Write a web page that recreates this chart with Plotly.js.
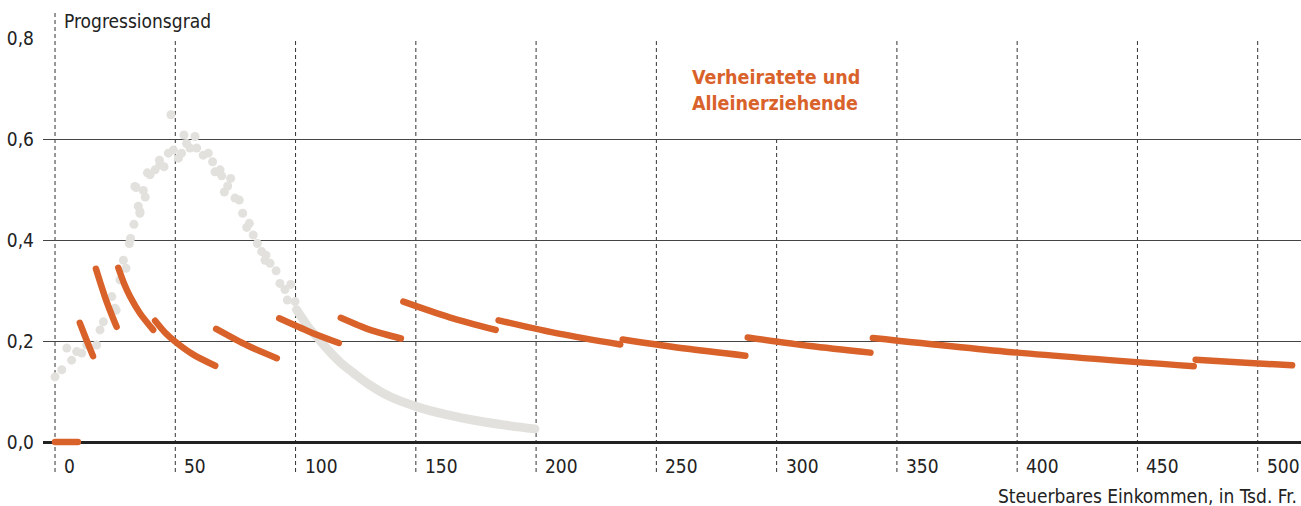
<!DOCTYPE html>
<html>
<head>
<meta charset="utf-8">
<script src="https://cdn.plot.ly/plotly-3.0.1.min.js"></script>
<style>
  html, body { margin: 0; padding: 0; background: #ffffff; }
  #chart { width: 1301px; height: 506px; }
</style>
</head>
<body>
<div id="chart"></div>
<script>
// Alleinstehende (gray): scattered points up to ~100k
const singleX = [0, 2.8, 4.9, 6.9, 9.0, 11.1, 13.2, 17.3, 18.7, 20.1, 23.6, 24.9, 25.4, 27.0, 28.4, 29.5,
  30.9, 31.4, 32.8, 33.2, 33.7, 34.6, 35.3, 35.3, 36.7, 37.5, 38.4, 39.5, 41.6, 43.4, 43.6, 45.3, 47.1,
  48.2, 49.2, 51.3, 52.6, 53.6, 54.7, 56.1, 58.2, 58.9, 61.6, 63.7, 65.5, 66.5, 68.6, 69.3, 70.4, 71.8,
  73.0, 74.8, 76.6, 78.0, 79.7, 80.8, 82.4, 84.1, 85.9, 87.3, 87.7, 89.4, 91.9, 93.5, 95.6, 96.6, 98.0, 99.8];
const singleY = [0.129, 0.143, 0.186, 0.162, 0.179, 0.176, 0.192, 0.192, 0.222, 0.238, 0.288, 0.265, 0.261, 0.321, 0.360, 0.344,
  0.393, 0.403, 0.431, 0.506, 0.504, 0.467, 0.453, 0.456, 0.498, 0.485, 0.533, 0.529, 0.539, 0.558, 0.549, 0.545, 0.572,
  0.648, 0.578, 0.562, 0.572, 0.608, 0.591, 0.582, 0.605, 0.582, 0.568, 0.572, 0.555, 0.535, 0.539, 0.527, 0.495, 0.507,
  0.522, 0.483, 0.479, 0.453, 0.425, 0.433, 0.410, 0.393, 0.377, 0.360, 0.370, 0.354, 0.339, 0.314, 0.302, 0.281, 0.312, 0.278];

// Alleinstehende (gray): dense part 100k - 200k
const singleCurveX = [100.4, 106, 108.8, 113, 118.5, 124, 129.6, 139.2, 150.3, 162.8, 176.6, 189.1, 199.5];
const singleCurveY = [0.262, 0.223, 0.209, 0.185, 0.158, 0.137, 0.117, 0.090, 0.070, 0.054, 0.041, 0.032, 0.026];

// Verheiratete und Alleinerziehende (orange): segments separated by null
const marriedX = [0, 9.5, null, 10.3, 13, 15.8, null, 17, 19, 21, 23.3, 25.6, null, 26.3, 28.7, 31.2, 35.3, 40.8, null,
  41.6, 45.5, 49.9, 57.5, 66.6, null, 67, 80, 92.2, null, 93.2, 106, 118, null, 118.8, 131, 143.8, null,
  144.8, 164, 183.2, null, 184.4, 210, 235, null, 236, 262, 287, null, 288, 314, 339, null,
  340, 400, 473.4, null, 474.2, 495, 514.3];
const marriedY = [0, 0, null, 0.236, 0.203, 0.170, null, 0.343, 0.313, 0.284, 0.255, 0.228, null, 0.345, 0.314, 0.288, 0.255, 0.222, null,
  0.240, 0.218, 0.199, 0.173, 0.151, null, 0.224, 0.191, 0.166, null, 0.245, 0.218, 0.196, null, 0.246, 0.222, 0.205, null,
  0.278, 0.247, 0.222, null, 0.241, 0.214, 0.193, null, 0.203, 0.185, 0.171, null, 0.207, 0.190, 0.177, null,
  0.206, 0.177, 0.150, null, 0.163, 0.157, 0.152];

const xTicks = [0, 50, 100, 150, 200, 250, 300, 350, 400, 450, 500];
const yTicks = [0, 0.2, 0.4, 0.6, 0.8];
const labelLines = ["Verheiratete und", "Alleinerziehende"];

const FONT = "DejaVu Sans Condensed, DejaVu Sans, sans-serif";
const ORANGE = "#d9622b";
const GRAY = "#e2e1dd";
const Y_MIN = -0.0594;

const traces = [
  {
    type: "scatter",
    mode: "lines",
    x: singleCurveX,
    y: singleCurveY,
    line: { color: GRAY, width: 9, shape: "spline" },
    hoverinfo: "skip",
    showlegend: false
  },
  {
    type: "scatter",
    mode: "markers",
    x: singleX,
    y: singleY,
    marker: { color: GRAY, size: 9 },
    hoverinfo: "skip",
    showlegend: false
  },
  {
    type: "scatter",
    mode: "lines",
    x: marriedX,
    y: marriedY,
    connectgaps: false,
    line: { color: ORANGE, width: 6.5, shape: "spline", smoothing: 0.8 },
    hoverinfo: "skip",
    showlegend: false
  }
];

// vertical dashed grid lines (the 300 one is cut by the label)
const shapes = xTicks.map(function (t) {
  if (t === 0) {
    return {
      type: "line", xref: "x", yref: "paper", x0: t, x1: t, y0: 0, y1: 1.06,
      line: { color: "#333", width: 1, dash: "4px,3px" }, layer: "below"
    };
  }
  return {
    type: "line", xref: "x", yref: "y", x0: t, x1: t, y0: Y_MIN, y1: t === 300 ? 0.6 : 0.8,
    line: { color: "#333", width: 1, dash: "4px,3px" }, layer: "below"
  };
});

const annotations = xTicks.map(function (t) {
  return {
    text: String(t), xref: "x", yref: "y", x: t, y: -0.047,
    xanchor: "left", yanchor: "middle", xshift: 7, showarrow: false,
    font: { family: FONT, size: 19, color: "#222" }
  };
}).concat([
  {
    text: "Progressionsgrad", xref: "x", yref: "paper", x: 0, y: 1.04,
    xanchor: "left", yanchor: "middle", xshift: 7, showarrow: false,
    font: { family: FONT, size: 19, color: "#222" }
  },
  {
    text: "Steuerbares Einkommen, in Tsd. Fr.", xref: "paper", yref: "paper", x: 1, y: -0.055,
    xanchor: "right", yanchor: "middle", xshift: -2, showarrow: false,
    font: { family: FONT, size: 19, color: "#222" }
  }
]).concat(labelLines.map(function (line, i) {
  return {
    text: line, xref: "x", yref: "y", x: 264, y: 0.721 - i * 0.0515,
    xanchor: "left", yanchor: "middle", align: "left", showarrow: false,
    font: { family: FONT, size: 19.5, color: ORANGE, weight: "bold" }
  };
}));

const layout = {
  width: 1301,
  height: 506,
  margin: { l: 43, r: 0, t: 38, b: 34 },
  paper_bgcolor: "#ffffff",
  plot_bgcolor: "#ffffff",
  font: { family: FONT, size: 19, color: "#222" },
  showlegend: false,
  separators: ", ",
  xaxis: {
    range: [-5, 518],
    showgrid: false,
    zeroline: false,
    showticklabels: false,
    showline: false,
    ticks: "",
    fixedrange: true
  },
  yaxis: {
    range: [Y_MIN, 0.8],
    tickvals: yTicks,
    tickformat: ".1f",
    showgrid: true,
    gridcolor: "#444",
    gridwidth: 1,
    zeroline: true,
    zerolinecolor: "#222",
    zerolinewidth: 3,
    showline: false,
    ticks: "",
    ticklabelstandoff: 8,
    tickfont: { family: FONT, size: 19, color: "#222" },
    fixedrange: true
  },
  shapes: shapes,
  annotations: annotations
};

Plotly.newPlot("chart", traces, layout, { displayModeBar: false, staticPlot: true }).then(function () {
  document.querySelectorAll(".scatterlayer .js-line").forEach(function (p) {
    p.style.strokeLinecap = "round";
    p.style.strokeLinejoin = "round";
  });
});
</script>
</body>
</html>
